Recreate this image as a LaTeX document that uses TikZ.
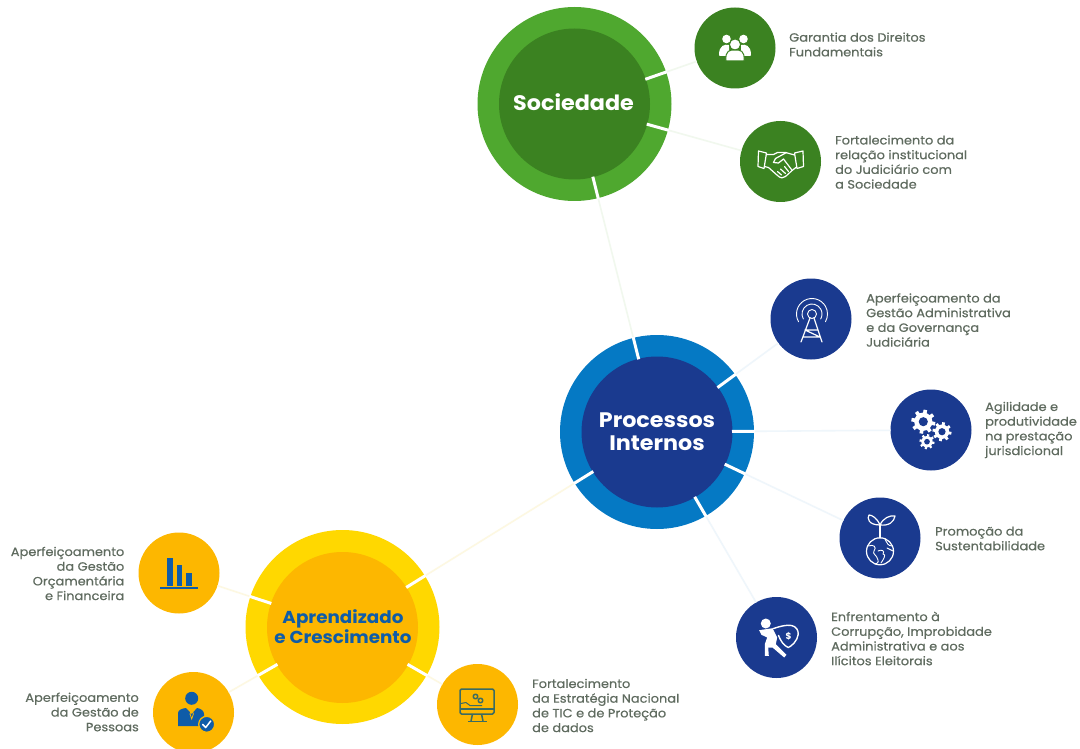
\documentclass[tikz,border=0pt]{standalone}
\usepackage{fontspec}
\setmainfont{Poppins}
\newfontfamily\labfont{Poppins}[FakeBold=0.45,FakeStretch=1.08]
\newfontfamily\titfont{Poppins}[BoldFont={Poppins Bold},FakeStretch=1.06]
\usetikzlibrary{calc}
\definecolor{gA}{HTML}{4FA82F}\definecolor{gB}{HTML}{3B8221}
\definecolor{bA}{HTML}{0579C4}\definecolor{bB}{HTML}{1A3A8F}
\definecolor{yA}{HTML}{FFD800}\definecolor{yB}{HTML}{FDB700}
\definecolor{lab}{HTML}{5F6B5F}\definecolor{yt}{HTML}{0F5CA8}\definecolor{teal}{HTML}{3B6B62}
\definecolor{gL}{HTML}{F1F8EE}\definecolor{bL}{HTML}{EFF6FB}\definecolor{yL}{HTML}{FDF8E2}
\tikzset{
 disc/.style={circle,inner sep=0pt,outer sep=0pt,minimum size=#1},
 hubtitle/.style={align=center,font=\titfont\bfseries\fontsize{21}{23}\selectfont,text=white},
 sat/.style={disc=81pt},
 lbl/.style={align=left,anchor=west,inner sep=0pt,text=lab,font=\labfont\fontsize{12}{14.7}\selectfont},
 lblr/.style={lbl,align=right,anchor=east},
 conn/.style={line width=1.6pt},
 ticker/.style={draw=white,line width=3pt},
 wi/.style={draw=white,line width=1.2pt,line cap=round,line join=round},
}
\newcommand{\hubtick}[2]{\draw[ticker] ($(#1.center)!75pt!(#2.center)$) -- ($(#1.center)!98pt!(#2.center)$);}
\newcommand{\gearicon}[3]{%
 \foreach \a in {0,45,...,315}{\draw[white,line width=#3*0.3pt] (#1,#2) ++(\a+10:#3*0.7) -- ++(\a+10:#3*0.3);}
 \fill[white] (#1,#2) circle[radius=#3*0.76];
 \fill[bB] (#1,#2) circle[radius=#3*0.38];}
\begin{document}
\begin{tikzpicture}[x=1pt,y=-1pt]
\clip (0,0) rectangle (1080,749);
\fill[white] (0,0) rectangle (1080,749);
% hubs
\node[disc=194pt,fill=gA] (soc) at (574.5,104) {};
\node[disc=151pt,fill=gB] (socin) at (574.5,104) {};
\node[hubtitle] (soct) at (573.5,102) {Sociedade};
\node[disc=194pt,fill=bA] (pro) at (657,432) {};
\node[disc=151pt,fill=bB] (proin) at (657,432) {};
\node[hubtitle] (prot) at (657,431.5) {Processos\\Internos};
\node[disc=194pt,fill=yA] (apr) at (342.5,627) {};
\node[disc=151pt,fill=yB] (aprin) at (342.5,627.5) {};
\node[align=center,text=yt,font=\titfont\bfseries\fontsize{17.3}{20.5}\selectfont] (aprt) at (343,626.5) {Aprendizado\\e Crescimento};
% satellites
\node[sat,fill=gB] (g1) at (735,48) {};
\node[sat,fill=gB] (g2) at (780.5,161.5) {};
\node[sat,fill=bB] (b1) at (811,319) {};
\node[sat,fill=bB] (b2) at (931,430) {};
\node[sat,fill=bB] (b3) at (880,538) {};
\node[sat,fill=bB] (b4) at (776.5,637.5) {};
\node[sat,fill=yB] (y1) at (179,573) {};
\node[sat,fill=yB] (y2) at (193.5,712.5) {};
\node[sat,fill=yB] (y3) at (477.5,704.5) {};
% connectors
\draw[conn,gL] (soc) -- (g1);
\draw[conn,gL] (soc) -- (g2);
\draw[conn,gL] (soc) -- (pro);
\draw[conn,bL] (pro) -- (b1);
\draw[conn,bL] (pro) -- (b2);
\draw[conn,bL] (pro) -- (b3);
\draw[conn,bL] (pro) -- (b4);
\draw[conn,yL] (pro) -- (apr);
\draw[conn,yL] (apr) -- (y1);
\draw[conn,yL] (apr) -- (y2);
\draw[conn,yL] (apr) -- (y3);
% ring ticks
\hubtick{soc}{g1}\hubtick{soc}{g2}\hubtick{soc}{pro}
\hubtick{pro}{soc}\hubtick{pro}{b1}\hubtick{pro}{b2}\hubtick{pro}{b3}\hubtick{pro}{b4}\hubtick{pro}{apr}
\hubtick{apr}{pro}\hubtick{apr}{y1}\hubtick{apr}{y2}\hubtick{apr}{y3}
% labels
\node[lbl] (tg1) at (789,44.5) {Garantia dos Direitos\\Fundamentais};
\node[lbl] (tg2) at (835,162) {Fortalecimento da\\relação institucional\\do Judiciário com\\a Sociedade};
\node[lbl] (tb1) at (866,320) {Aperfeiçoamento da\\Gestão Administrativa\\e da Governança\\Judiciária};
\node[lbl] (tb2) at (985,430) {Agilidade e\\produtividade\\na prestação\\jurisdicional};
\node[lbl] (tb3) at (935,538.5) {Promoção da\\Sustentabilidade};
\node[lbl] (tb4) at (831,638.5) {Enfrentamento à\\Corrupção, Improbidade\\Administrativa e aos\\Ilícitos Eleitorais};
\node[lbl] (ty3) at (532,705.5) {Fortalecimento\\da Estratégia Nacional\\de TIC e de Proteção\\de dados};
\node[lblr] (ty1) at (124.5,573.5) {Aperfeiçoamento\\da Gestão\\Orçamentária\\e Financeira};
\node[lblr] (ty2) at (139,712) {Aperfeiçoamento\\da Gestão de\\Pessoas};
% people icon
\begin{scope}[shift={(g1.center)}]
 \fill[white] (-8.5,-9) circle[radius=4.3] (8.5,-9) circle[radius=4.3];
 \fill[white] (-16,7) .. controls (-16,-3) and (-10,-4) .. (-6,-3) -- (-6,8) -- (-14,8) .. controls (-15,8) and (-16,8) .. (-16,7) -- cycle;
 \fill[white] (16,7) .. controls (16,-3) and (10,-4) .. (6,-3) -- (6,8) -- (14,8) .. controls (15,8) and (16,8) .. (16,7) -- cycle;
 \fill[white,draw=gB,line width=1pt] (0,-3.5) circle[radius=5.6];
 \fill[white,draw=gB,line width=1pt] (-9,13) .. controls (-10,2) and (-5,2) .. (0,2) .. controls (5,2) and (10,2) .. (9,13) -- cycle;
\end{scope}
% handshake icon
\begin{scope}[shift={(g2.center)},wi]
 \draw (-22,-10.5) -- (-14,-8.5) -- (-16.5,7) -- (-22.5,5) -- cycle;
 \draw (22.5,-10.5) -- (14,-8.5) -- (16.5,7) -- (23,5) -- cycle;
 \draw (-14,-7) -- (-7,-7) -- (-3,-9) -- (5,-9) -- (14,-6.5);
 \draw (-16,5) -- (-12,6) -- (-3,14) .. controls (0,17) and (3,17) .. (5,15) -- (11,9.5) -- (16,5.5);
 \draw (6,-9) -- (-5,-3) -- (-7,1) -- (-2,1.5) -- (3,-2.5) -- (11,8);
 \draw (-3,10) -- (1,13.5) (0,7.5) -- (5,12) (4,5) -- (8,10);
\end{scope}
% tower icon
\begin{scope}[shift={(b1.center)}]
 \draw[wi,line width=0.9pt] (1,-5) circle[radius=4.5];
 \draw[wi,line width=0.9pt] (1,-5) ++(150:10) arc[start angle=150,end angle=390,radius=10];
 \draw[wi,line width=0.9pt] (1,-5) ++(150:15.5) arc[start angle=150,end angle=390,radius=15.5];
 \draw[wi] (-1,-1) -- (-10,23) (3,-1) -- (11,23) (-6,11) -- (7,11) (-8,18) -- (9,18) (-6,11) -- (9,18);
\end{scope}
% gears icon
\gearicon{923.3}{421.7}{12}
\gearicon{942}{431.7}{9.5}
\gearicon{927}{441.7}{7.5}
% globe/sprout icon
\begin{scope}[shift={(b3.center)}]
 \draw[wi] (0,13.3) circle[radius=13.5];
 \draw[wi,line width=0.9pt] (-12,8) .. controls (-6,6) and (-3,9) .. (-6,13) .. controls (-8,16) and (-3,17) .. (-2,22) .. controls (-1,25) and (-4,26) .. (-5,26);
 \draw[wi,line width=0.9pt] (-2,13) .. controls (2,11) and (5,13) .. (3,16) .. controls (7,16) and (3,22) .. (1,25);
 \draw[wi,line width=0.9pt] (5,1) .. controls (7,5) and (8,8) .. (12,8) (7,10) -- (13,13);
 \draw[wi] (0,0) -- (0,-13);
 \draw[wi] (0,-13) .. controls (-3,-20) and (-8,-23) .. (-11,-23) .. controls (-13,-20) and (-12,-13) .. (0,-13);
 \draw[wi] (0,-13) .. controls (3,-20) and (10,-23) .. (15,-22) .. controls (14,-16) and (9,-12) .. (0,-13);
\end{scope}
% thief icon
\begin{scope}[shift={(b4.center)}]
 \fill[white] (-10.7,-14) circle[radius=5];
 \fill[white] (-17.3,-7.3) -- (-4,-9.3) -- (0.7,0) -- (-0.7,6.7) -- (10,17.3) -- (7.7,20) -- (-4,10) -- (-8.3,10) -- (-7.7,18.3) -- (-11.7,18.3) -- (-11.7,6.7) -- (-9.3,0) -- (-15,-2.7) -- cycle;
 \draw[wi,line width=1.4pt] (-3,-9) .. controls (3,-11) and (10,-13) .. (15,-12) .. controls (20,-11) and (22,-7) .. (21.7,-3) .. controls (21,3) and (15,9) .. (11.7,10) .. controls (7,8) and (4,3) .. (2,-2);
 \node[text=white,font=\fontsize{9}{9}\selectfont\bfseries,inner sep=0pt] (thiefs) at (12,-1.5) {\$};
\end{scope}
% bar chart icon
\fill[yt] (166.7,558) rectangle (172.7,586);
\fill[yt] (176.7,565) rectangle (182.3,586);
\fill[yt] (185.7,573) rectangle (191.7,586);
\fill[yt] (160,586.5) rectangle (198,588.5);
% person icon
\begin{scope}
 \fill[yt] (191.7,698.3) circle[radius=6.5];
 \fill[yt] (178,726) -- (178,713) .. controls (178,710) and (182,708.5) .. (186,708) -- (191.7,714) -- (197,708) .. controls (201,708.5) and (204,711) .. (204,714) -- (204,726) -- cycle;
 \fill[yt,draw=yB,line width=1.3pt] (206.7,724.3) circle[radius=8];
 \draw[white,line width=1.5pt,line cap=round,line join=round] (202.7,724.5) -- (205.7,727.5) -- (210.7,721);
 \draw[yB,line width=0.8pt] (191.7,709) -- (190,714) -- (191.7,719) -- (193.4,714) -- cycle;
\end{scope}
% monitor icon
\begin{scope}[teal,line width=1.5pt,line join=round]
 \draw[rounded corners=1.5pt] (460,689) rectangle (494,714);
 \draw (460,709) -- (494,709);
 \draw (472.5,714) -- (471,721) (481.5,714) -- (483,721);
 \draw (468,721.3) -- (487,721.3);
 \draw[line width=1.5pt] (475.5,696.5) circle[radius=2.3] (480.5,700.5) circle[radius=2.3];
 \draw[line width=1pt] (461,703.5) -- (466,702.5) -- (470,705.5) -- (482,705.5);
\end{scope}
\end{tikzpicture}
\end{document}
